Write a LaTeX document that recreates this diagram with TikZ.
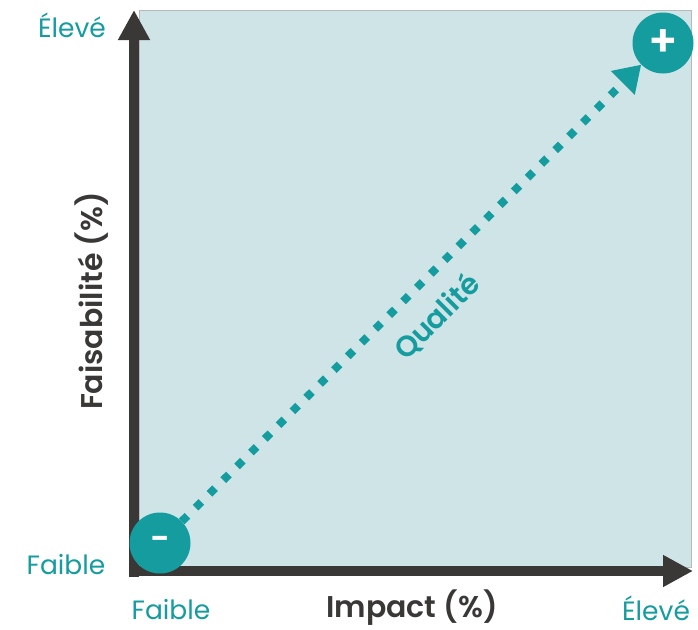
\documentclass[tikz,border=0pt]{standalone}
\usepackage{fontspec}
\setmainfont{Poppins}[BoldFont={Poppins SemiBold}]
\usetikzlibrary{arrows.meta}

\definecolor{teal}{HTML}{149C9F}
\definecolor{paleteal}{HTML}{CFE4E7}
\definecolor{axisgray}{HTML}{3A3837}

\tikzset{
  axis/.style   ={draw=axisgray, line width=9.5pt, -{Triangle[length=30pt,width=30pt]}},
  level/.style  ={text=teal, inner sep=1pt, font=\fontsize{26.5}{30}\selectfont},
  title/.style  ={text=axisgray, font=\fontsize{30}{34}\selectfont\bfseries},
  pole/.style   ={circle, fill=teal, minimum size=61pt, inner sep=0pt, text=white,
                  font=\fontsize{34}{34}\selectfont\bfseries},
  trend/.style  ={draw=teal, line width=8pt, dash pattern=on 8pt off 11.5pt,
                  -{Triangle[length=26pt,width=32pt]}},
}

\begin{document}
\begin{tikzpicture}[x=1pt, y=-1pt]
  \useasboundingbox (0,0) rectangle (698,629);
  \fill[paleteal, draw=gray!55, line width=0.8pt] (139,10) rectangle (691,567);

  \coordinate (xstart) at (129,571);
  \coordinate (xend) at (693,571);
  \coordinate (ystart) at (134,577);
  \coordinate (yend) at (134,10);
  \draw[axis] (ystart) -- (yend);
  \draw[axis] (xstart) -- (xend);

  \node[level] (ylow)  at (66,565) {Faible};
  \node[level] (yhigh) at (72,25) {Élevé};
  \node[level] (xlow)  at (171,610) {Faible};
  \node[level] (xhigh) at (656,608) {Élevé};
  \node[title] (xlab) at (412,608) {Impact (\%)};
  \node[title, rotate=90] (ylab) at (92,301) {Faisabilité (\%)};

  \node[pole] (lo) at (160,543) {-};
  \node[pole, font=\fontsize{44}{44}\selectfont\bfseries] (hi) at (663,43) {+};
  \draw[trend] (lo) -- (hi);
  \node[text=teal, font=\fontsize{29}{32}\selectfont\bfseries, rotate=45] (qual) at (437,317) {Qualité};
\end{tikzpicture}
\end{document}
